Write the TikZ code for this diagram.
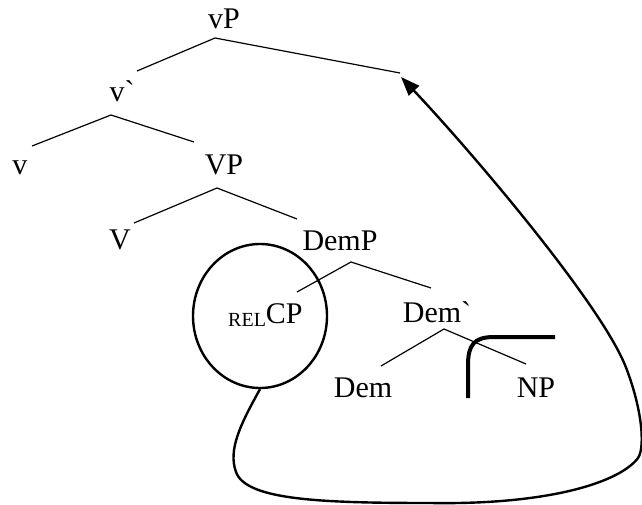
\documentclass[tikz,border=0pt]{standalone}
\usepackage{fontspec}
\setmainfont{Liberation Serif}[Ligatures=TeXOff]
\usetikzlibrary{arrows.meta,shapes.geometric}
\begin{document}
\begin{tikzpicture}[x=1pt,y=-1pt,
  lbl/.style={anchor=base,inner sep=0pt,font=\fontsize{30}{36}\selectfont},
  branch/.style={line width=1.2pt},
  ring/.style={draw,ellipse,line width=2.4pt,inner sep=0pt,minimum width=134pt,minimum height=144pt},
  movement/.style={line width=2.4pt,-{Triangle[length=19pt,width=14pt]}},
  barrier/.style={line width=4pt}]
\useasboundingbox (0,0) rectangle (642,505);

% labels
\node[lbl] (vP) at (224,29) {vP};
\node[lbl] (vbar) at (122,102) {v`};
\node[lbl] (v) at (20,175) {v};
\node[lbl] (VP) at (224,175) {VP};
\node[lbl] (V) at (120,249) {V};
\node[lbl] (DemP) at (340,250) {DemP};
\node[lbl,anchor=base west] (CP) at (228,323) {\raisebox{-3pt}{\fontsize{20}{20}\selectfont REL}CP};
\node[lbl] (Dembar) at (437,322) {Dem`};
\node[lbl] (Dem) at (363,397) {Dem};
\node[lbl] (NP) at (536,397) {NP};

% branch points
\coordinate (vP-t) at (215,38);  \coordinate (vP-l) at (137,71);  \coordinate (vP-r) at (400,73);
\coordinate (vb-t) at (111,115); \coordinate (vb-l) at (32,146);  \coordinate (vb-r) at (194,142);
\coordinate (VP-t) at (217,188); \coordinate (VP-l) at (134,223); \coordinate (VP-r) at (297,219);
\coordinate (DP-t) at (351,262); \coordinate (DP-l) at (297,292); \coordinate (DP-r) at (431,288);
\coordinate (Db-t) at (444,329); \coordinate (Db-l) at (381,366); \coordinate (Db-r) at (526,364);

\draw[branch] (vP-l) -- (vP-t) -- (vP-r);
\draw[branch] (vb-l) -- (vb-t) -- (vb-r);
\draw[branch] (VP-l) -- (VP-t) -- (VP-r);
\draw[branch] (DP-l) -- (DP-t) -- (DP-r);
\draw[branch] (Db-l) -- (Db-t) -- (Db-r);

% island circle
\node[ring] (island) at (260,316) {};

% movement arrow
\coordinate (landing) at (401,77);
\draw[movement] (island.south)
  .. controls (240,425) and (228,450) .. (236,472)
  .. controls (246,500) and (320,503) .. (430,503)
  .. controls (550,505) and (620,482) .. (638,458)
  .. controls (646,446) and (641,405) .. (625,365)
  .. controls (598,300) and (470,150) .. (landing);

% barrier
\coordinate (bar-b) at (468,398);
\coordinate (bar-e) at (555,337);
\draw[barrier] (bar-b) -- (468,365) .. controls (468,345) and (474,337) .. (494,337) -- (bar-e);
\end{tikzpicture}
\end{document}
